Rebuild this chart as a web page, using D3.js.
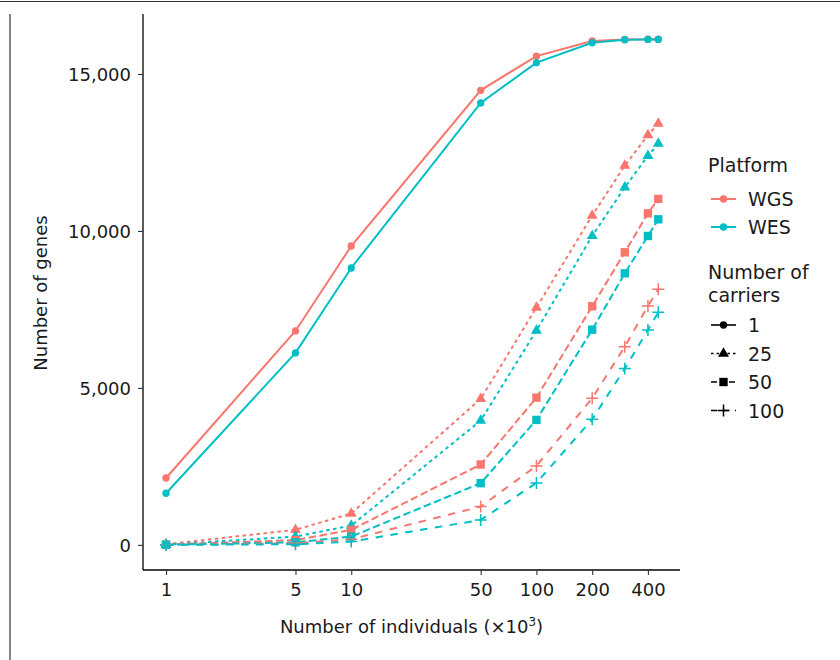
<!DOCTYPE html>
<html>
<head>
<meta charset="utf-8">
<script src="https://cdn.jsdelivr.net/npm/d3@7"></script>
<style>
  body { margin: 0; background: #fff; }
  text { font-family: "DejaVu Sans", sans-serif; }
</style>
</head>
<body>
<div class="chart"></div>
<script>
// data (thousands of individuals vs number of genes)
var individuals = [1, 5, 10, 50, 100, 200, 300, 400, 455];
var platforms = ["WGS", "WES"];
var carriers = ["1", "25", "50", "100"];
var xTicks = [1, 5, 10, 50, 100, 200, 400];
var yTicks = [0, 5000, 10000, 15000];

var wgs1   = [2130, 6815, 9520, 14480, 15570, 16050, 16100, 16105, 16105];
var wes1   = [1645, 6115, 8820, 14075, 15360, 15995, 16090, 16100, 16100];
var wgs25  = [20, 480, 1000, 4650, 7560, 10490, 12080, 13050, 13420];
var wes25  = [10, 265, 615, 3960, 6825, 9840, 11390, 12390, 12780];
var wgs50  = [10, 150, 480, 2560, 4690, 7600, 9320, 10560, 11020];
var wes50  = [5, 80, 265, 1965, 3980, 6855, 8650, 9840, 10370];
var wgs100 = [5, 50, 180, 1220, 2515, 4670, 6315, 7610, 8140];
var wes100 = [0, 20, 105, 795, 1975, 4000, 5615, 6845, 7410];

var colors = { WGS: "#F8766D", WES: "#00BFC4" };
var dashes = { "1": null, "25": "3.5,3.5", "50": "7.5,3.5", "100": "7.5,7.5" };
var shapes = { "1": d3.symbolCircle, "25": d3.symbolTriangle, "50": d3.symbolSquare, "100": "plus" };

var series = [
  { platform: "WGS", carriers: "1", values: wgs1 },
  { platform: "WES", carriers: "1", values: wes1 },
  { platform: "WGS", carriers: "25", values: wgs25 },
  { platform: "WES", carriers: "25", values: wes25 },
  { platform: "WGS", carriers: "50", values: wgs50 },
  { platform: "WES", carriers: "50", values: wes50 },
  { platform: "WGS", carriers: "100", values: wgs100 },
  { platform: "WES", carriers: "100", values: wes100 }
];

var svgWidth = 840, svgHeight = 660;
var svg = d3.select(".chart").append("svg")
  .attr("width", svgWidth)
  .attr("height", svgHeight);

// page frame lines
svg.append("line").attr("x1", 0).attr("x2", svgWidth).attr("y1", 1.5).attr("y2", 1.5)
  .attr("stroke", "#333").attr("stroke-width", 1.2);
svg.append("line").attr("x1", 10).attr("x2", 10).attr("y1", 14).attr("y2", svgHeight)
  .attr("stroke", "#333").attr("stroke-width", 1.2);

var plot = { left: 143, right: 680, top: 14, bottom: 570 };

var xScale = d3.scaleLog()
  .domain([0.751, 596])
  .range([plot.left, plot.right]);

var yScale = d3.scaleLinear()
  .domain([-800, 16910])
  .range([plot.bottom, plot.top]);

// axes
var xAxis = d3.axisBottom(xScale).tickValues(xTicks).tickFormat(d3.format("d")).tickSize(5).tickSizeOuter(0);
var yAxis = d3.axisLeft(yScale).tickValues(yTicks).tickFormat(d3.format(",")).tickSize(5).tickSizeOuter(0);

var gx = svg.append("g")
  .attr("transform", `translate(0, ${plot.bottom})`)
  .call(xAxis);
var gy = svg.append("g")
  .attr("transform", `translate(${plot.left}, 0)`)
  .call(yAxis);

[gx, gy].forEach(function(g) {
  g.select(".domain").attr("stroke", "#000").attr("stroke-width", 1.3);
  g.selectAll(".tick line").attr("stroke", "#333").attr("stroke-width", 1.1);
  g.selectAll(".tick text").attr("fill", "#1a1a1a").style("font-size", "18px")
    .style("font-family", "DejaVu Sans, sans-serif");
});
gx.selectAll(".tick text").attr("dy", "1.02em");
gy.selectAll(".tick text").attr("x", -12).attr("dy", "0.36em");
gx.select(".domain").attr("d", `M${plot.left},0H${plot.right}`);
gy.select(".domain").attr("d", `M0,${plot.top}V${plot.bottom}`);

// axis titles
svg.append("text")
  .attr("x", (plot.left + plot.right) / 2)
  .attr("y", 633)
  .attr("text-anchor", "middle")
  .style("font-size", "18px")
  .attr("fill", "#1a1a1a")
  .html('Number of individuals (×10<tspan dy="-7" style="font-size:12px">3</tspan><tspan dy="7">)</tspan>');

svg.append("text")
  .attr("transform", `translate(47, 293) rotate(-90)`)
  .attr("text-anchor", "middle")
  .style("font-size", "18px")
  .attr("fill", "#1a1a1a")
  .text("Number of genes");

var line = d3.line()
  .x(function(d, i) { return xScale(individuals[i]); })
  .y(function(d) { return yScale(d); });

function drawMarker(g, shape, x, y, color) {
  if (shape === "plus") {
    g.append("path")
      .attr("d", `M${x - 6},${y}H${x + 6}M${x},${y - 6}V${y + 6}`)
      .attr("stroke", color).attr("stroke-width", 1.5).attr("fill", "none");
  } else {
    var size = shape === d3.symbolCircle ? 42 : (shape === d3.symbolTriangle ? 52 : 70);
    g.append("path")
      .attr("d", d3.symbol().type(shape).size(size)())
      .attr("transform", `translate(${x}, ${y})`)
      .attr("fill", color);
  }
}

var marks = svg.append("g");
series.forEach(function(s) {
  marks.append("path")
    .attr("d", line(s.values))
    .attr("fill", "none")
    .attr("stroke", colors[s.platform])
    .attr("stroke-width", 2)
    .attr("stroke-dasharray", dashes[s.carriers]);
});
series.forEach(function(s) {
  s.values.forEach(function(v, i) {
    drawMarker(marks, shapes[s.carriers], xScale(individuals[i]), yScale(v), colors[s.platform]);
  });
});

// legends
var legend = svg.append("g");
var lgSize = "19px";
legend.append("text").attr("x", 708).attr("y", 172).style("font-size", lgSize).attr("fill", "#1a1a1a").text("Platform");
platforms.forEach(function(p, i) {
  var y = 199 + i * 28;
  legend.append("line").attr("x1", 711).attr("x2", 736).attr("y1", y).attr("y2", y)
    .attr("stroke", colors[p]).attr("stroke-width", 2);
  drawMarker(legend, d3.symbolCircle, 723.5, y, colors[p]);
  legend.append("text").attr("x", 748).attr("y", y + 7).style("font-size", lgSize).attr("fill", "#1a1a1a").text(p);
});

legend.append("text").attr("x", 708).attr("y", 279).style("font-size", lgSize).attr("fill", "#1a1a1a").text("Number of");
legend.append("text").attr("x", 708).attr("y", 302).style("font-size", lgSize).attr("fill", "#1a1a1a").text("carriers");
carriers.forEach(function(c, i) {
  var y = 325 + i * 28.5;
  legend.append("line").attr("x1", 711).attr("x2", 736).attr("y1", y).attr("y2", y)
    .attr("stroke", "#000").attr("stroke-width", 1.6)
    .attr("stroke-dasharray", dashes[c] ? (c === "25" ? "2.5,3" : (c === "50" ? "6,3" : "6,6")) : null);
  drawMarker(legend, shapes[c], 723.5, y, "#000");
  legend.append("text").attr("x", 748).attr("y", y + 7).style("font-size", lgSize).attr("fill", "#1a1a1a").text(c);
});
</script>
</body>
</html>
